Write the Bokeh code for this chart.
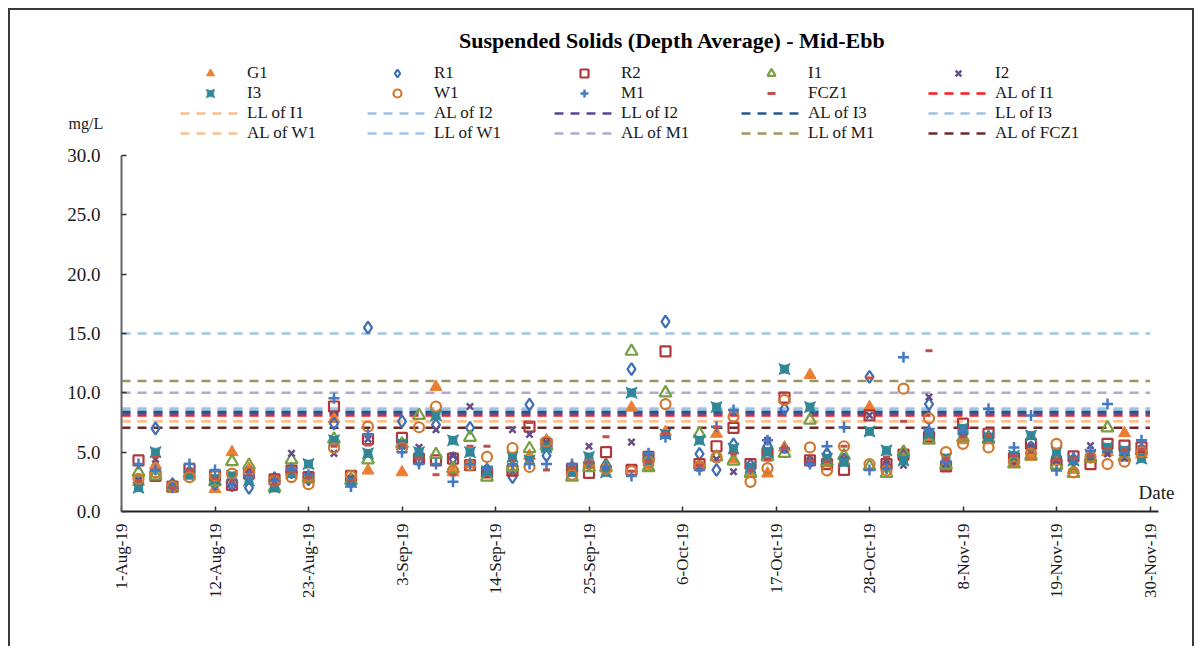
import datetime as dt
from bokeh.plotting import figure
from bokeh.layouts import column
from bokeh.models import (Range1d, FixedTicker, Legend, LegendItem, Label, PrintfTickFormatter)
from bokeh.embed import file_html
from bokeh.resources import INLINE

# ---------------- data ----------------
dates = ["2019-08-03", "2019-08-05", "2019-08-07", "2019-08-09", "2019-08-12", "2019-08-14",
         "2019-08-16", "2019-08-19", "2019-08-21", "2019-08-23", "2019-08-26", "2019-08-28",
         "2019-08-30", "2019-09-03", "2019-09-05", "2019-09-07", "2019-09-09", "2019-09-11",
         "2019-09-13", "2019-09-16", "2019-09-18", "2019-09-20", "2019-09-23", "2019-09-25",
         "2019-09-27", "2019-09-30", "2019-10-02", "2019-10-04", "2019-10-08", "2019-10-10",
         "2019-10-12", "2019-10-14", "2019-10-16", "2019-10-18", "2019-10-21", "2019-10-23",
         "2019-10-25", "2019-10-28", "2019-10-30", "2019-11-01", "2019-11-04", "2019-11-06",
         "2019-11-08", "2019-11-11", "2019-11-14", "2019-11-16", "2019-11-19", "2019-11-21",
         "2019-11-23", "2019-11-25", "2019-11-27", "2019-11-29"]

G1 = [2.5, 3.9, 2.2, 3.0, 1.9, 5.0, 3.6, 2.8, 3.6, 2.8, 7.8, 2.8, 3.45, 3.3, 4.6, 10.5, 3.3, 4.0,
      3.2, 3.3, 4.7, 6.0, 3.8, 4.0, 4.0, 8.75, 3.7, 6.7, 3.9, 6.55, 4.4, 3.3, 3.2, 5.4, 11.5, 4.1,
      4.3, 8.8, 4.0, 5.0, 6.2, 3.7, 6.0, 6.0, 4.0, 4.6, 4.2, 3.5, 4.4, 5.0, 6.6, 4.8]
R1 = [2.3, 7.0, 2.3, 3.3, 2.3, 2.2, 2.0, 2.8, 3.3, 2.7, 7.4, 2.5, 15.5, 7.6, 4.3, 7.3, 4.5, 7.05,
      3.5, 2.9, 9.0, 4.7, 3.5, 4.0, 3.9, 12.0, 4.6, 16.0, 4.85, 3.5, 5.65, 3.9, 5.5, 8.65, 4.2, 4.85,
      4.4, 11.35, 3.8, 4.7, 9.05, 4.0, 6.5, 6.3, 4.4, 5.4, 4.6, 4.4, 4.6, 5.2, 4.9, 5.2]
R2 = [4.3, 3.0, 2.1, 3.6, 3.0, 2.25, 3.2, 2.7, 3.45, 2.9, 8.85, 3.0, 6.1, 6.2, 4.45, 4.3, 4.45, 3.9,
      3.3, 3.45, 7.15, 5.7, 3.6, 3.25, 5.0, 3.5, 4.6, 13.5, 4.0, 5.5, 7.05, 4.0, 4.9, 9.6, 4.3, 4.0,
      3.5, 8.1, 4.0, 4.8, 6.3, 3.8, 7.4, 6.55, 4.5, 5.7, 4.0, 4.65, 4.0, 5.7, 5.55, 5.4]
I1 = [3.3, 3.0, 2.0, 3.2, 2.5, 4.2, 3.9, 2.0, 4.35, 2.8, 6.1, 2.6, 4.35, 5.7, 8.1, 4.8, 3.6, 6.25,
      2.9, 3.75, 5.3, 5.5, 2.9, 3.7, 3.7, 13.5, 3.7, 10.0, 6.55, 4.6, 4.25, 3.2, 4.6, 4.9, 7.7, 4.2,
      4.7, 3.8, 3.2, 5.0, 6.0, 3.9, 6.2, 6.1, 4.0, 4.7, 3.9, 3.2, 4.5, 7.05, 4.6, 5.1]
I2 = [2.6, 4.4, 2.2, 3.4, 2.6, 2.4, 3.5, 2.5, 4.9, 3.0, 4.9, 2.8, 6.1, 5.5, 5.4, 6.9, 4.7, 8.85,
      3.6, 6.9, 6.5, 5.8, 3.4, 5.5, 3.6, 5.85, 4.5, 6.5, 3.7, 4.4, 3.35, 3.8, 6.0, 5.2, 4.3, 4.6,
      4.4, 8.1, 4.0, 3.9, 9.65, 4.0, 6.6, 6.2, 4.6, 5.5, 4.3, 4.2, 5.55, 4.85, 4.5, 5.3]
I3 = [2.0, 5.0, 2.1, 3.1, 2.75, 3.0, 2.6, 2.0, 3.2, 4.0, 6.0, 2.5, 4.9, 5.7, 5.0, 8.1, 6.0, 5.0,
      3.4, 4.6, 4.3, 5.4, 3.3, 4.6, 3.3, 10.0, 4.3, 6.5, 6.0, 8.8, 5.3, 3.7, 5.0, 12.0, 8.8, 4.45,
      4.15, 6.75, 5.15, 4.3, 6.55, 4.5, 7.0, 6.25, 4.7, 6.4, 5.0, 4.3, 4.8, 5.4, 5.15, 4.45]
W1 = [2.75, 3.3, 2.1, 2.9, 3.0, 3.2, 3.3, 2.6, 2.9, 2.3, 5.35, 3.0, 7.15, 5.35, 7.1, 8.85, 3.45, 3.9,
      4.6, 5.35, 3.75, 5.9, 3.1, 4.0, 3.6, 3.4, 4.2, 9.05, 3.8, 4.6, 8.0, 2.5, 3.65, 9.4, 5.4, 3.45,
      5.5, 4.0, 3.45, 10.35, 7.85, 5.0, 5.7, 5.4, 4.2, 4.9, 5.7, 3.3, 4.6, 4.0, 4.2, 5.0]
M1 = [4.0, 3.5, 2.0, 4.0, 3.5, 2.3, 3.0, 2.6, 3.6, 3.1, 9.55, 2.1, 6.5, 5.0, 4.0, 4.0, 2.5, 4.0,
      3.6, 4.0, 4.0, 4.0, 4.0, 4.1, 3.8, 3.0, 4.9, 6.25, 3.5, 7.15, 8.55, 3.6, 6.0, 5.3, 4.0, 5.5,
      7.1, 3.5, 3.6, 13.0, 6.95, 4.2, 6.8, 8.65, 5.4, 8.1, 3.45, 4.5, 5.1, 9.05, 5.0, 6.0]
FCZ1 = [2.6, 4.6, 2.0, 3.5, 2.8, 2.6, 3.1, 2.3, 3.3, 2.9, 5.5, 2.6, 5.6, 5.6, 4.5, 3.1, 3.1, 5.5,
        5.5, 4.3, 7.5, 3.5, 3.7, 4.1, 6.3, 3.4, 4.2, 6.6, 3.9, 7.1, 4.85, 3.5, 4.35, 5.4, 4.3, 4.2,
        5.5, 11.25, 4.6, 7.6, 13.55, 4.4, 6.3, 6.4, 4.7, 5.0, 4.4, 4.5, 4.7, 5.3, 5.2, 5.2]

level_names = ["AL of I1", "LL of I1", "AL of I2", "LL of I2", "AL of I3", "LL of I3",
               "AL of W1", "LL of W1", "AL of M1", "LL of M1", "AL of FCZ1"]
level_values = [8.1, 7.6, 8.65, 8.25, 8.4, 15.0, 7.6, 8.65, 10.0, 11.0, 7.05]

x_tick_dates = ["2019-08-01", "2019-08-12", "2019-08-23", "2019-09-03", "2019-09-14", "2019-09-25",
                "2019-10-06", "2019-10-17", "2019-10-28", "2019-11-08", "2019-11-19", "2019-11-30"]
x_tick_labels = ["1-Aug-19", "12-Aug-19", "23-Aug-19", "3-Sep-19", "14-Sep-19", "25-Sep-19",
                 "6-Oct-19", "17-Oct-19", "28-Oct-19", "8-Nov-19", "19-Nov-19", "30-Nov-19"]
y_ticks = [0, 5, 10, 15, 20, 25, 30]

title_text = "Suspended Solids (Depth Average) - Mid-Ebb"
y_unit_text = "mg/L"
x_name_text = "Date"

# ---------------- styles ----------------
FONT = "Liberation Serif"
series_style = [
    ("G1", G1, dict(marker="triangle", size=12, fill_color="#ED7D31", line_color="#ED7D31", line_width=1)),
    ("R1", R1, dict(marker="diamond", size=12, fill_color=None, line_color="#3F6EB5", line_width=2.2)),
    ("R2", R2, dict(marker="square", size=10, fill_color=None, line_color="#B0383A", line_width=2.2)),
    ("I1", I1, dict(marker="triangle", size=12, fill_color=None, line_color="#76A043", line_width=2.2)),
    ("I2", I2, dict(marker="x", size=9, line_color="#654F86", line_width=2.5)),
    ("I3", I3, dict(marker="square_pin", size=11, fill_color="#2F8697", line_color="#2F8697", line_width=1)),
    ("W1", W1, dict(marker="circle", size=10, fill_color=None, line_color="#D2772E", line_width=2.2)),
    ("M1", M1, dict(marker="cross", size=11, line_color="#4579C2", line_width=2.5)),
    ("FCZ1", FCZ1, dict(marker="dash", size=7, line_color="#C0504D", line_width=3)),
]
level_colors = ["#FF1A1A", "#F9C08C", "#9DC3E6", "#5C4590", "#23568F", "#9DC3E6",
                "#F9C08C", "#9DC3E6", "#B4A7D6", "#9E9563", "#6E2A2A"]
LINE_DASH = "9 7"


def to_dt(s):
    return dt.datetime.strptime(s, "%Y-%m-%d")


def to_ms(s):
    return (to_dt(s) - dt.datetime(1970, 1, 1)).total_seconds() * 1000.0


xd = [to_dt(s) for s in dates]
x0, x1 = to_dt(x_tick_dates[0]), to_dt(x_tick_dates[-1])
x_end = dt.datetime(2019, 12, 5)   # frame extends a little past the axis so "Date" fits
W = 1182

# ---------------- header figure (title, legend, unit) ----------------
hdr = figure(width=W, height=135, output_backend="svg", toolbar_location=None,
             x_axis_type="datetime", x_range=Range1d(x0, x_end), y_range=Range1d(1000, 1001),
             x_axis_location=None, y_axis_location=None,
             min_border_left=0, min_border_right=0, min_border_top=0, min_border_bottom=0)
hdr.outline_line_color = None
hdr.grid.visible = False

# ---------------- main figure ----------------
p = figure(width=W, height=501, output_backend="svg", toolbar_location=None,
           x_axis_type="datetime", x_range=Range1d(x0, x_end), y_range=Range1d(0, 30),
           min_border_left=111, min_border_right=0, min_border_top=10, min_border_bottom=135)
p.outline_line_color = None
p.grid.visible = False

try:
    hdr.frame_align = False
    p.frame_align = False
    DX = 0
except Exception:
    DX = -111

h_lines = []
for name, val, col in zip(level_names, level_values, level_colors):
    r = hdr.line([x0, x1], [val, val], line_color=col, line_width=2.5, line_dash=LINE_DASH)
    h_lines.append((name, r))
h_marks = []
for name, vals, st in series_style:
    r = hdr.scatter(xd, vals, **st)
    h_marks.append((name, r))

items = [LegendItem(label=n, renderers=[r]) for n, r in h_marks + h_lines]
legend = Legend(items=items, orientation="horizontal", ncols=5, location=(170 + DX, 2),
                glyph_width=60, glyph_height=20, label_width=120, label_height=20,
                label_standoff=7, spacing=0, padding=0, margin=0,
                label_text_font=FONT, label_text_font_size="17px", label_text_color="#1a1a1a",
                border_line_color=None, background_fill_alpha=0)
hdr.add_layout(legend, "center")
hdr.add_layout(Label(x=662 + DX, y=105, x_units="screen", y_units="screen", text=title_text,
                     text_align="center", text_baseline="middle", text_font=FONT,
                     text_font_style="bold", text_font_size="22px", text_color="#000000"))
hdr.add_layout(Label(x=58 + DX, y=22, x_units="screen", y_units="screen", text=y_unit_text,
                     text_baseline="middle", text_font=FONT, text_font_size="16px",
                     text_color="#1a1a1a"))

p.xaxis.ticker = FixedTicker(ticks=[to_ms(s) for s in x_tick_dates])
p.xaxis.major_label_overrides = {to_ms(s): l for s, l in zip(x_tick_dates, x_tick_labels)}
p.xaxis.major_label_orientation = 3.14159265 / 2
p.xaxis.bounds = (to_ms("2019-08-01"), to_ms("2019-12-01"))
p.yaxis.ticker = FixedTicker(ticks=y_ticks)
p.yaxis.formatter = PrintfTickFormatter(format="%.1f")
for ax in (p.xaxis[0], p.yaxis[0]):
    ax.major_label_text_font = FONT
    ax.major_label_text_color = "#1a1a1a"
    ax.major_tick_in = 5
    ax.major_tick_out = 0
    ax.minor_tick_line_color = None
    ax.major_tick_line_color = "#333333"
    ax.major_tick_line_width = 1.5
    ax.axis_line_width = 2
p.xaxis.major_label_text_font_size = "17px"
p.yaxis.major_label_text_font_size = "19px"
p.xaxis.axis_line_color = "#222222"
p.yaxis.axis_line_color = "#666666"
p.xaxis.major_label_standoff = 12
p.yaxis.major_label_standoff = 21

for name, val, col in zip(level_names, level_values, level_colors):
    p.line([x0, x1], [val, val], line_color=col, line_width=2.5, line_dash=LINE_DASH)
for name, vals, st in series_style:
    p.scatter(xd, vals, **st)

p.add_layout(Label(x=1017, y=19, x_units="screen", y_units="screen", text=x_name_text,
                   text_baseline="middle", text_font=FONT, text_font_size="19px",
                   text_color="#1a1a1a"))

page = column(hdr, p, spacing=0, margin=(8, 0, 0, 8),
              styles={"border-top": "2px solid #3a3a3a", "border-left": "2px solid #3a3a3a",
                      "border-right": "2px solid #3a3a3a"})

open("out.html", "w").write(file_html(page, INLINE))
